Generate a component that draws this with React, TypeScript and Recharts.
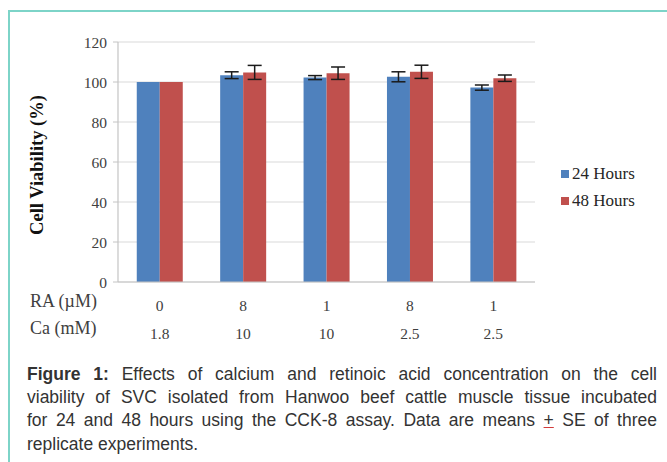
import { BarChart, Bar, XAxis, YAxis, CartesianGrid, ErrorBar } from 'recharts';

const raLabels = ['0', '8', '1', '8', '1'];
const caLabels = ['1.8', '10', '10', '2.5', '2.5'];
const hours24 = [100, 103.4, 102.2, 102.6, 97.2];
const hours24Se = [null, 1.7, 1.0, 2.5, 1.3];
const hours48 = [100, 104.8, 104.4, 105.1, 101.9];
const hours48Se = [null, 3.5, 3.1, 3.3, 1.6];
const yTicks = [0, 20, 40, 60, 80, 100, 120];

const BLUE = '#4f81bd';
const RED = '#c0504d';
const SERIF = '"Liberation Serif", "Times New Roman", serif';

const chartData = raLabels.map((ra, i) => ({
  ra,
  ca: caLabels[i],
  h24: hours24[i],
  h24Se: hours24Se[i],
  h48: hours48[i],
  h48Se: hours48Se[i],
}));

function CategoryTick(props: any) {
  const { x, y, index } = props;
  return (
    <g>
      <text x={x} y={y + 21} textAnchor="middle" fontSize={15.5} fill="#404040" fontFamily={SERIF}>
        {raLabels[index]}
      </text>
      <text x={x} y={y + 49} textAnchor="middle" fontSize={15.5} fill="#404040" fontFamily={SERIF}>
        {caLabels[index]}
      </text>
    </g>
  );
}

const lineStyle = { textAlign: 'justify' as const, textAlignLast: 'justify' as const, whiteSpace: 'nowrap' as const };

export default function App() {
  return (
    <div
      style={{
        position: 'fixed',
        left: 0,
        top: 0,
        width: 667,
        height: 462,
        overflow: 'hidden',
        background: '#fff',
      }}
    >
      <div
        style={{
          position: 'absolute',
          left: 8,
          top: 10,
          width: 720,
          height: 520,
          border: '2px solid #7dd4c8',
        }}
      />
      <div style={{ position: 'absolute', left: 0, top: 0 }}>
        <BarChart
          width={560}
          height={345}
          data={chartData}
          margin={{ top: 42, right: 25, left: 88, bottom: 13 }}
          barCategoryGap="22.5%"
          barGap={0}
        >
          <CartesianGrid vertical={false} stroke="#d9d9d9" strokeWidth={1.2} />
          <XAxis
            dataKey="ra"
            tick={<CategoryTick />}
            tickLine={false}
            axisLine={{ stroke: '#c4c4c4', strokeWidth: 1.2 }}
            height={50}
            interval={0}
          />
          <YAxis
            domain={[0, 120]}
            ticks={yTicks}
            width={30}
            tickSize={5}
            tickMargin={6}
            tickLine={{ stroke: '#c4c4c4' }}
            axisLine={{ stroke: '#c4c4c4', strokeWidth: 1.2 }}
            tick={{ fontSize: 15.5, fill: '#404040', fontFamily: SERIF }}
          />
          <Bar dataKey="h24" fill={BLUE} isAnimationActive={false}>
            <ErrorBar dataKey="h24Se" width={7} stroke="#1a1a1a" strokeWidth={1.5} />
          </Bar>
          <Bar dataKey="h48" fill={RED} isAnimationActive={false}>
            <ErrorBar dataKey="h48Se" width={7} stroke="#1a1a1a" strokeWidth={1.5} />
          </Bar>
        </BarChart>
      </div>
      <div
        style={{
          position: 'absolute',
          left: 37,
          top: 165,
          transform: 'translate(-50%, -50%) rotate(-90deg)',
          whiteSpace: 'nowrap',
          fontFamily: SERIF,
          fontWeight: 'bold',
          fontSize: 18.5,
          color: '#111',
        }}
      >
        Cell Viability (%)
      </div>
      <div
        style={{
          position: 'absolute',
          left: 30,
          top: 288,
          fontFamily: SERIF,
          fontSize: 18,
          color: '#404040',
          lineHeight: '27px',
        }}
      >
        <div>RA (µM)</div>
        <div>Ca (mM)</div>
      </div>
      <div
        style={{
          position: 'absolute',
          left: 561,
          top: 160,
          fontFamily: SERIF,
          fontSize: 17,
          color: '#262626',
          lineHeight: '27px',
        }}
      >
        {[
          { name: '24 Hours', color: BLUE },
          { name: '48 Hours', color: RED },
        ].map((item) => (
          <div key={item.name} style={{ display: 'flex', alignItems: 'center' }}>
            <span
              style={{
                display: 'inline-block',
                width: 8,
                height: 8,
                background: item.color,
                marginRight: 3,
              }}
            />
            {item.name}
          </div>
        ))}
      </div>
      <div
        style={{
          position: 'absolute',
          left: 27,
          top: 363,
          width: 630,
          fontFamily: '"Liberation Sans", Arial, sans-serif',
          fontSize: 17.5,
          lineHeight: '23.2px',
          color: '#333',
        }}
      >
        <div style={lineStyle}>
          <b>Figure 1:</b> Effects of calcium and retinoic acid concentration on the cell
        </div>
        <div style={lineStyle}>
          viability of SVC isolated from Hanwoo beef cattle muscle tissue incubated
        </div>
        <div style={lineStyle}>
          for 24 and 48 hours using the CCK-8 assay. Data are means{' '}
          <span style={{ textDecoration: 'underline', textDecorationColor: '#d23c3c' }}>+</span> SE of
          three
        </div>
        <div>replicate experiments.</div>
      </div>
    </div>
  );
}
